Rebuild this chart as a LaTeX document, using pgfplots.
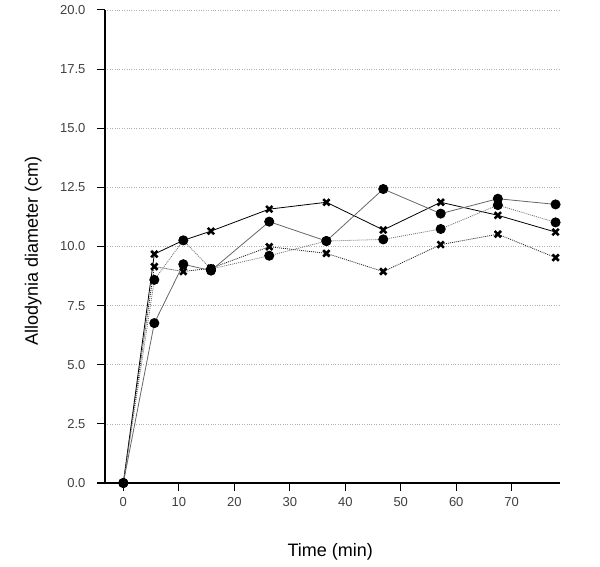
\documentclass[border=0pt]{standalone}
\usepackage{pgfplots}
\pgfplotsset{compat=1.18}
\usepackage{fontspec}
\setmainfont{Liberation Sans}
\begin{document}
\begin{tikzpicture}[x=1pt,y=1pt]
\path (0,0) rectangle (600,567);
\begin{axis}[
  at={(105pt,84pt)}, anchor=south west,
  scale only axis, width=455pt, height=473pt,
  xmin=-3.3, xmax=78.7, ymin=0, ymax=20,
  axis lines=left,
  axis line style={-, line width=1.2pt, black},
  x axis line style={shorten <=-8pt},
  xtick={0,10,...,70},
  ytick={0,2.5,...,20},
  tick style={line width=1pt, black},
  tick align=outside, major tick length=8pt,
  ymajorgrids,
  grid style={gray!60, dotted, line width=0.6pt},
  /pgf/number format/assume math mode=true,
  yticklabel style={/pgf/number format/fixed, /pgf/number format/fixed zerofill, /pgf/number format/precision=1, xshift=-8pt},
  ticklabel style={font=\fontsize{13}{15}\selectfont, text=black!75},
  xticklabel style={yshift=-3pt},
  xlabel={Time (min)},
  ylabel={Allodynia diameter (cm)},
  every axis x label/.style={at={(axis description cs:0.495,-0.146)}, anchor=center, font=\fontsize{18}{20}\selectfont},
  every axis y label/.style={at={(axis description cs:-0.158,0.49)}, rotate=90, anchor=center, font=\fontsize{18}{20}\selectfont},
  clip=false,
]
% A: cross, solid black
\addplot[black, line width=0.8pt, mark=x, mark size=4.5pt, mark options={solid, line width=2.6pt}]
coordinates {(0,0) (5.59,9.68) (10.81,10.26) (15.8,10.65) (26.3,11.58) (36.6,11.87) (46.85,10.70) (57.2,11.87) (67.5,11.32) (77.9,10.61)};
% C: cross, dotted black
\addplot[black!85, line width=0.8pt, dash pattern=on 1pt off 1pt, mark=x, mark size=4.5pt, mark options={solid, black, line width=2.6pt}]
coordinates {(0,0) (5.59,9.15) (10.81,8.94) (15.8,9.08) (26.3,9.99) (36.6,9.71) (46.85,8.94) (57.2,10.08) (67.5,10.52) (77.9,9.53)};
% B: circle, dotted gray
\addplot[black!55, line width=0.8pt, dash pattern=on 1pt off 1pt, mark=*, mark size=4.6pt, mark options={solid, black, fill=black}]
coordinates {(0,0) (5.59,8.59) (10.81,10.26) (15.8,9.05) (26.3,9.61) (36.6,10.23) (46.85,10.30) (57.2,10.74) (67.5,11.75) (77.9,11.02)};
% D: circle, solid gray
\addplot[black!60, line width=0.8pt, mark=*, mark size=4.6pt, mark options={solid, black, fill=black}]
coordinates {(0,0) (5.59,6.76) (10.81,9.25) (15.8,8.98) (26.3,11.05) (36.6,10.23) (46.85,12.43) (57.2,11.39) (67.5,12.02) (77.9,11.78)};
\end{axis}
\end{tikzpicture}
\end{document}
